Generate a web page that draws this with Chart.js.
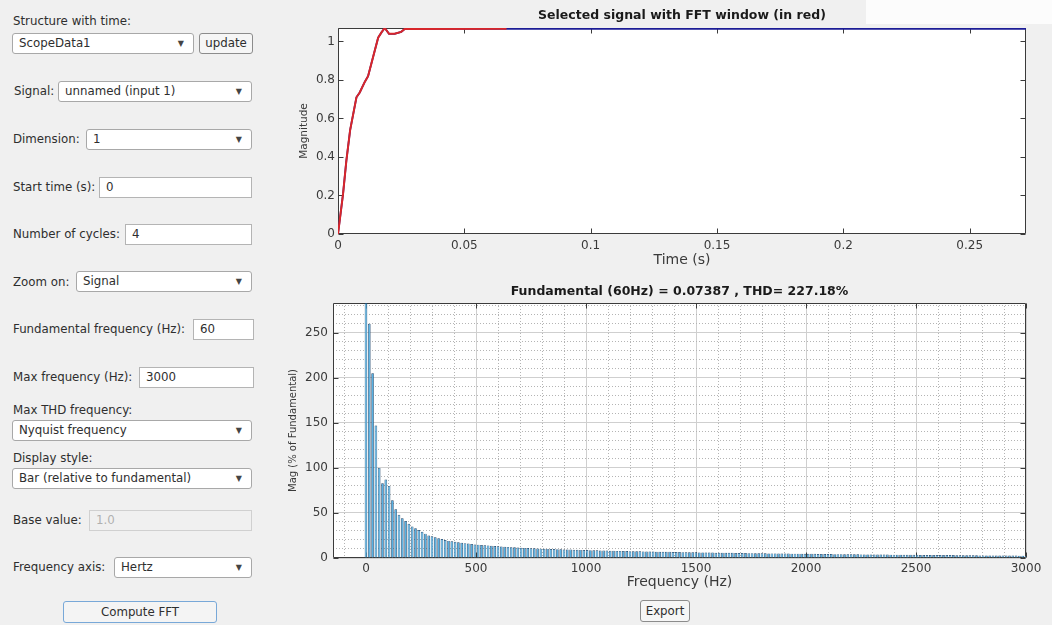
<!DOCTYPE html>
<html><head><meta charset="utf-8">
<script src="https://cdn.jsdelivr.net/npm/chart.js@4.4.1/dist/chart.umd.min.js"></script>
<style>
html,body{margin:0;padding:0;}
body{width:1052px;height:625px;background:#f0f0f0;position:relative;overflow:hidden;font-family:"DejaVu Sans",sans-serif;font-size:11.8px;color:#2e2e2e;}
.lbl{position:absolute;white-space:nowrap;line-height:14px;}
.dd,.tb,.btn{position:absolute;box-sizing:border-box;background:#fff;border:1px solid #a8a8a8;border-radius:3px;line-height:19px;padding-left:6px;white-space:nowrap;}
.dd::after{content:"\25BC";position:absolute;right:9px;top:0;font-size:8px;color:#444;}
.tb{border-radius:0;border-color:#b4b4b4;}
.tb.dis{background:#f0f0f0;color:#b0b0b0;border-color:#d0d0d0;}
.btn{background:#f6f6f6;text-align:center;padding:0;border-color:#8c8c8c;}
.btn.blue{border-color:#78a8d8;background:#f4f4f4;}
canvas{position:absolute;}
#patch{position:absolute;left:866px;top:0;width:186px;height:24px;background:#fcfcfc;}
</style></head><body>
<div id="patch"></div>

<div class="lbl" style="left:13px;top:14px">Structure with time:</div>
<div class="dd" style="left:12px;top:33px;width:182px;height:21px">ScopeData1</div>
<div class="btn" style="left:199px;top:33px;width:54px;height:21px">update</div>

<div class="lbl" style="left:14px;top:84px">Signal:</div>
<div class="dd" style="left:58px;top:81px;width:194px;height:21px">unnamed (input 1)</div>

<div class="lbl" style="left:13px;top:132px">Dimension:</div>
<div class="dd" style="left:86px;top:129px;width:166px;height:21px">1</div>

<div class="lbl" style="left:13px;top:180px">Start time (s):</div>
<div class="tb" style="left:99px;top:177px;width:153px;height:21px">0</div>

<div class="lbl" style="left:13px;top:227px">Number of cycles:</div>
<div class="tb" style="left:125px;top:224px;width:127px;height:21px">4</div>

<div class="lbl" style="left:13px;top:275px">Zoom on:</div>
<div class="dd" style="left:76px;top:271px;width:176px;height:21px">Signal</div>

<div class="lbl" style="left:13px;top:322px">Fundamental frequency (Hz):</div>
<div class="tb" style="left:193px;top:319px;width:61px;height:21px">60</div>

<div class="lbl" style="left:13px;top:370px">Max frequency (Hz):</div>
<div class="tb" style="left:139px;top:367px;width:115px;height:21px">3000</div>

<div class="lbl" style="left:13px;top:403px">Max THD frequency:</div>
<div class="dd" style="left:12px;top:420px;width:240px;height:21px">Nyquist frequency</div>

<div class="lbl" style="left:13px;top:451px">Display style:</div>
<div class="dd" style="left:12px;top:468px;width:240px;height:21px">Bar (relative to fundamental)</div>

<div class="lbl" style="left:13px;top:513px">Base value:</div>
<div class="tb dis" style="left:89px;top:510px;width:163px;height:21px">1.0</div>

<div class="lbl" style="left:13px;top:560px">Frequency axis:</div>
<div class="dd" style="left:114px;top:557px;width:138px;height:21px">Hertz</div>

<div class="btn blue" style="left:63px;top:601px;width:154px;height:22px;line-height:20px">Compute FFT</div>
<div class="btn" style="left:640px;top:600px;width:50px;height:22px;line-height:20px">Export</div>

<canvas id="top" width="750" height="275" style="left:290px;top:0px"></canvas>
<canvas id="fft" width="770" height="315" style="left:280px;top:278px"></canvas>

<script>
// ---------------- data ----------------
// whole signal (blue)
const signalTime = [0, 0.002, 0.0033, 0.0048, 0.0073, 0.0086, 0.0106, 0.0119, 0.0139, 0.0159, 0.0172, 0.0185, 0.0202, 0.0224, 0.025, 0.0264, 0.0667, 0.2723];
const signalMag  = [0, 0.208, 0.38, 0.54, 0.71, 0.735, 0.79, 0.82, 0.92, 1.02, 1.047, 1.07, 1.04, 1.04, 1.05, 1.065, 1.066, 1.066];
// FFT window (red)
const windowTime = [0, 0.002, 0.0033, 0.0048, 0.0073, 0.0086, 0.0106, 0.0119, 0.0139, 0.0159, 0.0172, 0.0185, 0.0202, 0.0224, 0.025, 0.0264, 0.0667];
const windowMag  = [0, 0.208, 0.38, 0.54, 0.71, 0.735, 0.79, 0.82, 0.92, 1.02, 1.047, 1.07, 1.04, 1.04, 1.05, 1.065, 1.066];

// FFT spectrum, % of fundamental
const freqHz = [0,15,30,45,60,75,90,105,120,135,
150,165,180,195,210,225,240,255,270,285,
300,315,330,345,360,375,390,405,420,435,
450,465,480,495,510,525,540,555,570,585,
600,615,630,645,660,675,690,705,720,735,
750,765,780,795,810,825,840,855,870,885,
900,915,930,945,960,975,990,1005,1020,1035,
1050,1065,1080,1095,1110,1125,1140,1155,1170,1185,
1200,1215,1230,1245,1260,1275,1290,1305,1320,1335,
1350,1365,1380,1395,1410,1425,1440,1455,1470,1485,
1500,1515,1530,1545,1560,1575,1590,1605,1620,1635,
1650,1665,1680,1695,1710,1725,1740,1755,1770,1785,
1800,1815,1830,1845,1860,1875,1890,1905,1920,1935,
1950,1965,1980,1995,2010,2025,2040,2055,2070,2085,
2100,2115,2130,2145,2160,2175,2190,2205,2220,2235,
2250,2265,2280,2295,2310,2325,2340,2355,2370,2385,
2400,2415,2430,2445,2460,2475,2490,2505,2520,2535,
2550,2565,2580,2595,2610,2625,2640,2655,2670,2685,
2700,2715,2730,2745,2760,2775,2790,2805,2820,2835,
2850,2865,2880,2895,2910,2925,2940,2955,2970,2985,3000];
const magPct = [283,260,205,147,100,83,87,80,64,54,
48,44,41,38,35,33,31,29,27,25,
24,23,22,21,20,19,18.5,18,17.5,17,
16.5,16,15.5,15,14.8,14.5,14.2,14,13.6,13.3,
13,12.8,12.5,12.3,12,11.8,11.6,11.4,11.2,11,
10.8,10.7,10.5,10.4,10.2,10.1,10,9.9,9.8,9.6,
9.5,9.4,9.3,9.2,9.1,9,8.9,8.8,8.7,8.6,
8.5,8.4,8.3,8.2,8.1,8,7.9,7.9,7.8,7.7,
7.6,7.5,7.5,7.4,7.3,7.2,7.2,7.1,7,7,
6.9,6.8,6.8,6.7,6.6,6.6,6.5,6.4,6.4,6.3,
6.3,6.2,6.2,6.1,6,6,5.9,5.9,5.8,5.8,
5.7,5.7,5.6,5.6,5.5,5.5,5.4,5.4,5.3,5.3,
5.2,5.2,5.1,5.1,5.1,5,5,4.9,4.9,4.8,
4.8,4.8,4.7,4.7,4.6,4.6,4.6,4.5,4.5,4.4,
4.4,4.4,4.3,4.3,4.3,4.2,4.2,4.1,4.1,4.1,
4,4,4,3.9,3.9,3.9,3.8,3.8,3.8,3.7,
3.7,3.7,3.6,3.6,3.6,3.5,3.5,3.5,3.4,3.4,
3.4,3.4,3.3,3.3,3.3,3.2,3.2,3.2,3.2,3.1,
3.1,3.1,3,3,3,3,2.9,2.9,2.9,2.9,
2.8,2.8,2.8,2.8,2.7,2.7,2.7,2.7,2.6,2.6,2.6];

// tick values
const timeTicks = [0, 0.05, 0.1, 0.15, 0.2, 0.25];
const magTicks = [0, 0.2, 0.4, 0.6, 0.8, 1];
const freqTicks = [0, 500, 1000, 1500, 2000, 2500, 3000];
const freqMinorTicks = [-100,100,200,300,400,600,700,800,900,1100,1200,1300,1400,1600,1700,1800,1900,2100,2200,2300,2400,2600,2700,2800,2900];
const pctTicks = [0, 50, 100, 150, 200, 250];
const pctMinorTicks = [10,20,30,40,60,70,80,90,110,120,130,140,160,170,180,190,210,220,230,240,260,270,280];

const topTitle = 'Selected signal with FFT window (in red)';
const fftTitle = 'Fundamental (60Hz) = 0.07387 , THD= 227.18%';

// ---------------- helpers ----------------
Chart.defaults.font.family = '"DejaVu Sans", sans-serif';
Chart.defaults.color = '#3a3a3a';
const fmt = v => String(Math.round(v * 1000) / 1000);
const setTicks = arr => s => { s.ticks = arr.map(v => ({value: v})); };

const framePlugin = {
  id: 'frame',
  beforeDraw(chart) {
    const {ctx, chartArea: a} = chart;
    ctx.save(); ctx.fillStyle = '#ffffff';
    ctx.fillRect(a.left, a.top, a.right - a.left, a.bottom - a.top);
    ctx.restore();
  },
  beforeDatasetsDraw(chart) {
    const {ctx, chartArea: a, scales} = chart;
    const L = 5;
    ctx.save();
    ctx.strokeStyle = '#3b3b3b'; ctx.lineWidth = 1;
    const l = Math.round(a.left) + 0.5, r = Math.round(a.right) - 0.5;
    const t = Math.round(a.top) + 0.5, b = Math.round(a.bottom) - 0.5;
    ctx.beginPath();
    ctx.rect(l, t, r - l, b - t);
    scales.x.ticks.forEach(tk => {
      const p = Math.round(scales.x.getPixelForValue(tk.value)) + 0.5;
      ctx.moveTo(p, b); ctx.lineTo(p, b - L);
      ctx.moveTo(p, t); ctx.lineTo(p, t + L);
    });
    scales.y.ticks.forEach(tk => {
      const p = Math.round(scales.y.getPixelForValue(tk.value)) + 0.5;
      ctx.moveTo(l, p); ctx.lineTo(l + L, p);
      ctx.moveTo(r, p); ctx.lineTo(r - L, p);
    });
    ctx.stroke();
    ctx.restore();
  }
};

// ---------------- top chart ----------------
new Chart(document.getElementById('top'), {
  type: 'line',
  data: {
    datasets: [
      { label: 'FFT window', data: windowTime.map((t, i) => ({x: t, y: windowMag[i]})),
        borderColor: '#d8262a', borderWidth: 2.0, pointRadius: 0, tension: 0 },
      { label: 'Signal', data: signalTime.map((t, i) => ({x: t, y: signalMag[i]})),
        borderColor: '#1c1c96', borderWidth: 1.8, pointRadius: 0, tension: 0 }
    ]
  },
  options: {
    responsive: false, animation: false, devicePixelRatio: 1,
    layout: { padding: { left: 0, right: 14, top: 0, bottom: 0 } },
    plugins: {
      legend: { display: false }, tooltip: { enabled: false },
      title: { display: true, text: topTitle, fullSize: false, color: '#1a1a1a',
        font: { size: 12.5, weight: 'bold' }, padding: { top: 8, bottom: 5 } }
    },
    scales: {
      x: { type: 'linear', min: 0, max: 0.2723,
        afterBuildTicks: setTicks(timeTicks), afterFit: s => { s.height = 41; },
        grid: { display: false, drawTicks: false }, border: { display: false },
        ticks: { callback: fmt, padding: 5, font: { size: 12 }, maxRotation: 0, autoSkip: false },
        title: { display: true, text: 'Time (s)', font: { size: 14 }, padding: { top: 0, bottom: 6.6 } } },
      y: { type: 'linear', min: 0, max: 1.07,
        afterBuildTicks: setTicks(magTicks), afterFit: s => { s.width = 48; },
        grid: { display: false, drawTicks: false }, border: { display: false },
        ticks: { callback: fmt, padding: 3, font: { size: 12 }, autoSkip: false },
        title: { display: true, text: 'Magnitude', font: { size: 10.5 }, padding: { top: 7.5, bottom: 0 } } }
    }
  },
  plugins: [framePlugin]
});

// ---------------- FFT chart ----------------
new Chart(document.getElementById('fft'), {
  type: 'bar',
  data: {
    datasets: [{
      label: 'Mag', data: freqHz.map((f, i) => ({x: f, y: magPct[i]})),
      backgroundColor: '#55b0e2', borderColor: '#1a4066', borderWidth: 0.7,
      barPercentage: 0.8, categoryPercentage: 1
    }]
  },
  options: {
    responsive: false, animation: false, devicePixelRatio: 1,
    layout: { padding: { left: 0, right: 24, top: 0, bottom: 0 } },
    plugins: {
      legend: { display: false }, tooltip: { enabled: false },
      title: { display: true, text: fftTitle, fullSize: false, color: '#1a1a1a',
        font: { size: 12.5, weight: 'bold' }, padding: { top: 6, bottom: 4 } }
    },
    scales: {
      x: { type: 'linear', min: -150, max: 3000, offset: false,
        afterBuildTicks: setTicks(freqTicks), afterFit: s => { s.height = 35; },
        grid: { display: true, color: '#cfcfcf', lineWidth: 1, drawTicks: false, offset: false }, border: { display: false },
        ticks: { callback: fmt, padding: 4, font: { size: 12 }, maxRotation: 0, autoSkip: false },
        title: { display: true, text: 'Frequency (Hz)', font: { size: 14 }, padding: { top: 0, bottom: 2 } } },
      xm: { type: 'linear', position: 'bottom', min: -150, max: 3000, offset: false,
        afterBuildTicks: setTicks(freqMinorTicks), afterFit: s => { s.height = 0; },
        grid: { display: true, color: '#b4b4b4', lineWidth: 1, drawTicks: false, offset: false },
        border: { display: false, dash: [1, 2] },
        ticks: { display: false } },
      y: { type: 'linear', min: 0, max: 283,
        afterBuildTicks: setTicks(pctTicks), afterFit: s => { s.width = 53; },
        grid: { display: true, color: '#cfcfcf', lineWidth: 1, drawTicks: false }, border: { display: false },
        ticks: { callback: fmt, padding: 5, font: { size: 12 }, autoSkip: false },
        title: { display: true, text: 'Mag (% of Fundamental)', font: { size: 10 }, padding: { top: 7.5, bottom: 0 } } },
      ym: { type: 'linear', position: 'left', min: 0, max: 283,
        afterBuildTicks: setTicks(pctMinorTicks), afterFit: s => { s.width = 0; },
        grid: { display: true, color: '#b4b4b4', lineWidth: 1, drawTicks: false },
        border: { display: false, dash: [1, 2] },
        ticks: { display: false } }
    }
  },
  plugins: [framePlugin]
});
</script>
</body></html>
